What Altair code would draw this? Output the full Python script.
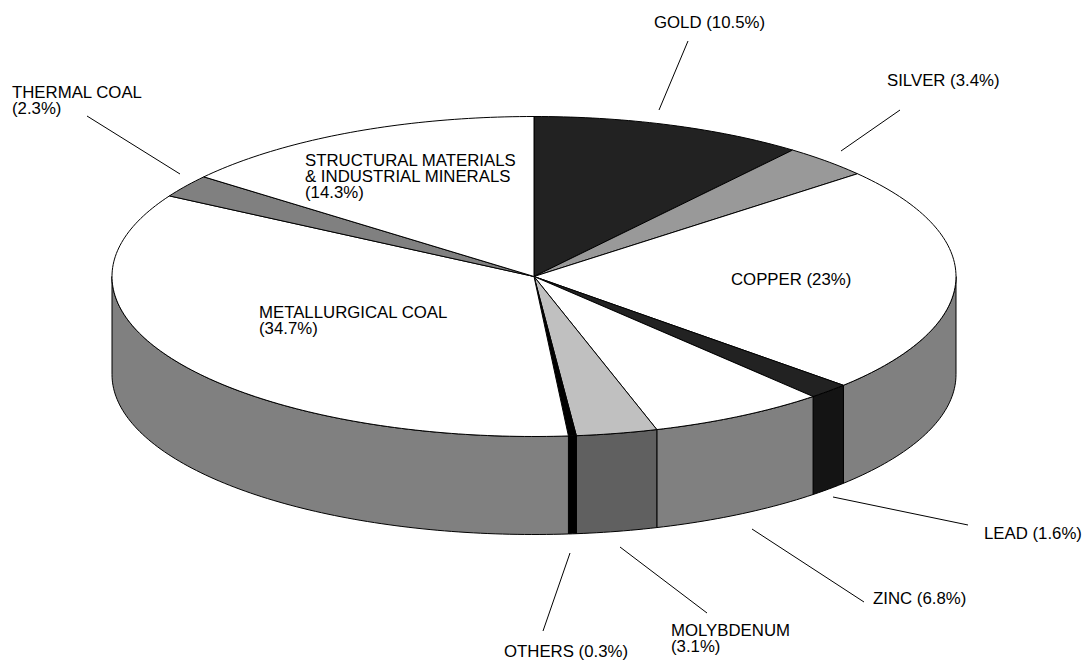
import math
import altair as alt

# Commodity shares, clockwise from twelve o'clock
names = ["GOLD", "SILVER", "COPPER", "LEAD", "ZINC", "MOLYBDENUM", "OTHERS",
         "METALLURGICAL COAL", "THERMAL COAL", "STRUCTURAL MATERIALS"]
shares = [10.5, 3.4, 23, 1.6, 6.8, 3.1, 0.3, 34.7, 2.3, 14.3]
top_fill = ["#222222", "#999999", "#ffffff", "#222222", "#ffffff",
            "#c0c0c0", "#000000", "#ffffff", "#808080", "#ffffff"]
side_fill = ["#808080", "#808080", "#808080", "#141414", "#808080",
             "#606060", "#000000", "#808080", "#808080", "#808080"]

# Ellipse proportions and projection placement
CENTER = [534, 276.5]
RADIUS_X = 422
SQUASH = 160 / 422
DEPTH = 98 / 422


def rim(deg, drop=0.0):
    t = math.radians(deg)
    return [math.sin(t), SQUASH * math.cos(t) - drop]


def sweep(a, b):
    n = max(2, int(abs(b - a)) + 2)
    return [a + (b - a) * i / (n - 1) for i in range(n)]


def feature(ring, fill):
    return {"type": "Feature", "properties": {"fill": fill},
            "geometry": {"type": "Polygon", "coordinates": [ring + [ring[0]]]}}


sides, tops = [], []
cum = 0.0
for share, tf, sf in zip(shares, top_fill, side_fill):
    a, b = cum * 3.6, (cum + share) * 3.6
    cum += share
    arc = sweep(a, b)
    tops.append(feature([[0.0, 0.0]] + [rim(d) for d in arc], tf))
    lo, hi = max(a, 90), min(b, 270)
    if lo < hi:
        wall = sweep(lo, hi)
        sides.append(feature([rim(d) for d in wall] +
                             [rim(d, DEPTH) for d in reversed(wall)], sf))

# Label table: text, left edge, first baseline
labels = [
    ("GOLD (10.5%)", 654, 28),
    ("SILVER (3.4%)", 887, 86),
    ("THERMAL COAL\n(2.3%)", 12, 98),
    ("STRUCTURAL MATERIALS\n& INDUSTRIAL MINERALS\n(14.3%)", 305, 166),
    ("COPPER (23%)", 731, 285),
    ("METALLURGICAL COAL\n(34.7%)", 259, 318),
    ("LEAD (1.6%)", 984, 539),
    ("ZINC (6.8%)", 873, 604),
    ("MOLYBDENUM\n(3.1%)", 671, 636),
    ("OTHERS (0.3%)", 504, 657),
]
label_rows = [{"text": t, "x": x, "y": y} for t, x, y in labels]

# Leader lines from each label toward its slice
leaders = [
    (688, 41, 659, 110),
    (900, 110, 841, 151),
    (87, 116, 180, 174),
    (833, 497, 968, 525),
    (752, 529, 864, 602),
    (620, 547, 707, 613),
    (570, 553, 543, 631),
]
leader_rows = [{"x": a, "y": b, "x2": c, "y2": d} for a, b, c, d in leaders]

projection = dict(type="identity", reflectY=True, scale=RADIUS_X, translate=CENTER)

body = (
    alt.Chart(alt.Data(values=sides + tops))
    .mark_geoshape(stroke="#000000", strokeWidth=1, strokeJoin="bevel")
    .encode(fill=alt.Color("properties.fill:N", scale=None))
    .project(**projection)
)

rules = (
    alt.Chart(alt.Data(values=leader_rows))
    .mark_rule(color="#000000", strokeWidth=1)
    .encode(
        x=alt.X("x:Q", scale=None), y=alt.Y("y:Q", scale=None),
        x2="x2:Q", y2="y2:Q",
    )
)

text = (
    alt.Chart(alt.Data(values=label_rows))
    .mark_text(align="left", baseline="alphabetic", font="Liberation Sans",
               fontSize=16.8, color="#000000", lineBreak="\n", lineHeight=16)
    .encode(x=alt.X("x:Q", scale=None), y=alt.Y("y:Q", scale=None), text="text:N")
)

chart = (
    alt.layer(body, rules, text)
    .properties(width=1084, height=660, padding=0, background="#ffffff")
    .configure_view(stroke=None)
)

chart.save("out.html", embed_options={"renderer": "svg", "actions": False})
